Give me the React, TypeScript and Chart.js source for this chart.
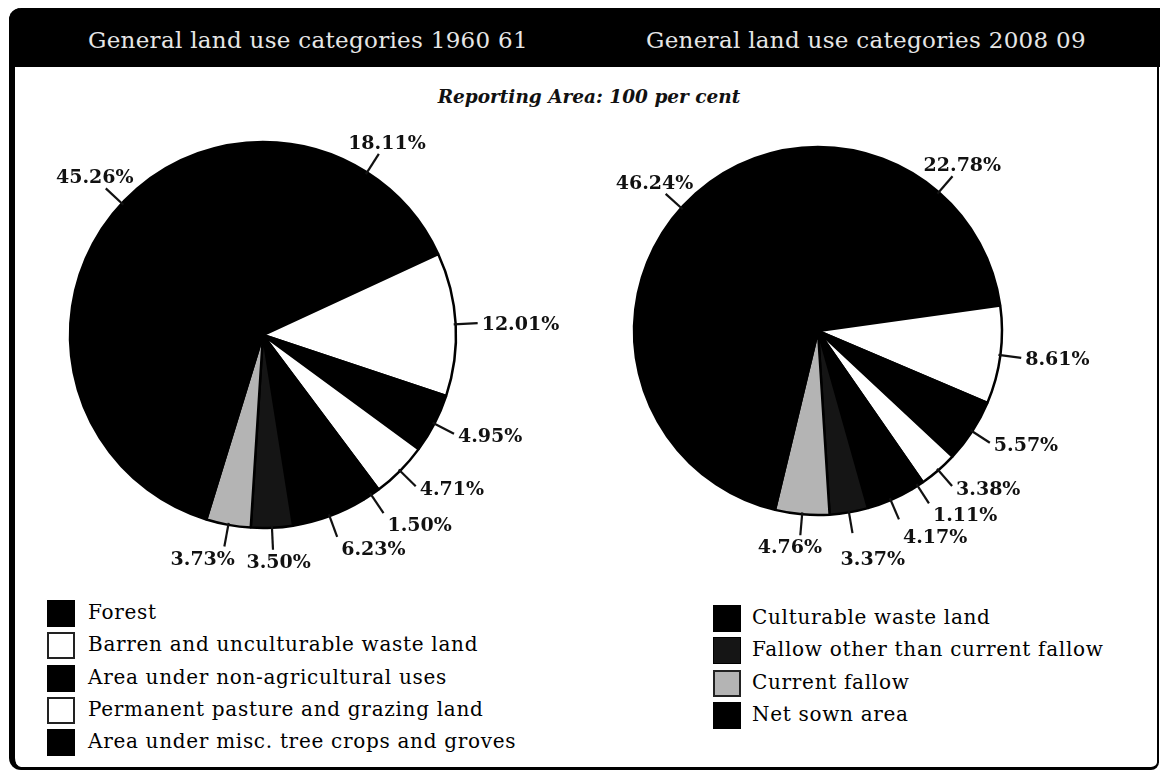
import React, { useEffect, useRef } from "react";
import { Chart, ArcElement, PieController } from "chart.js";

Chart.register(ArcElement, PieController);

// ---------- data ----------
const categories = [
  "Forest",
  "Barren and unculturable waste land",
  "Area under non-agricultural uses",
  "Permanent pasture and grazing land",
  "Area under misc. tree crops and groves",
  "Culturable waste land",
  "Fallow other than current fallow",
  "Current fallow",
  "Net sown area",
];
const values1960 = [18.11, 12.01, 4.95, 4.71, 1.5, 6.23, 3.5, 3.73, 45.26];
const values2008 = [22.78, 8.61, 5.57, 3.38, 1.11, 4.17, 3.37, 4.76, 46.24];
const titles = ["General land use categories 1960 61", "General land use categories 2008 09"];
const subtitle = "Reporting Area: 100 per cent";

// ---------- styles ----------
const sliceColors = ["#000000", "#ffffff", "#000000", "#ffffff", "#000000", "#000000", "#151515", "#b4b4b4", "#000000"];
const LABEL_FONT = "bold 19px 'DejaVu Serif'";

const pieLabels = {
  id: "pieLabels",
  afterDatasetsDraw(chart: any, _args: any, opts: any) {
    const ctx = chart.ctx;
    const meta = chart.getDatasetMeta(0);
    const vals = chart.data.datasets[0].data as number[];
    ctx.save();
    ctx.font = LABEL_FONT;
    ctx.fillStyle = "#111";
    ctx.strokeStyle = "#111";
    ctx.lineWidth = 2.2;
    ctx.lineCap = "butt";
    const h = 14;
    const boxes: { x: number; y: number; w: number; text: string }[] = [];
    meta.data.forEach((arc: any, i: number) => {
      const p = arc.getProps(["x", "y", "startAngle", "endAngle", "outerRadius"], true);
      let a = (p.startAngle + p.endAngle) / 2;
      const ov = opts.angleOverrides ? opts.angleOverrides[i] : undefined;
      if (ov !== undefined && ov !== null) a = (ov * Math.PI) / 180 - Math.PI / 2;
      const ux = Math.cos(a);
      const uy = Math.sin(a);
      const r0 = p.outerRadius - 2;
      const r1 = p.outerRadius + opts.leader;
      const ex = p.x + ux * r1;
      const ey = p.y + uy * r1;
      ctx.beginPath();
      ctx.moveTo(p.x + ux * r0, p.y + uy * r0);
      ctx.lineTo(ex, ey);
      ctx.stroke();
      const text = vals[i].toFixed(2) + "%";
      const w = ctx.measureText(text).width;
      let tx: number;
      let cy: number;
      if (uy < -0.6) {
        tx = ex + ux * 15 - w / 2;
        cy = ey - 5 - h / 2;
      } else {
        const k = Math.max(-1, Math.min(1, ux / 0.3));
        tx = ex - w / 2 + k * (w / 2 + 4);
        if (uy > 0.8) cy = ey + 4 + h / 2;
        else cy = ey + uy * 3;
      }
      // push down if colliding with previous label
      const prev = boxes[boxes.length - 1];
      if (prev && uy > 0 && tx < prev.x + prev.w && tx + w > prev.x) {
        const minY = prev.y + h + 8;
        if (cy < minY && cy > prev.y - h) cy = minY;
      }
      boxes.push({ x: tx, y: cy, w, text });
    });
    ctx.textAlign = "left";
    ctx.textBaseline = "alphabetic";
    boxes.forEach((b) => ctx.fillText(b.text, b.x, b.y + h / 2));
    ctx.restore();
  },
};

function PieCanvas(props: {
  values: number[];
  radius: number;
  left: number;
  top: number;
  width: number;
  height: number;
  netSownAngle: number;
  leader: number;
}) {
  const ref = useRef<HTMLCanvasElement | null>(null);
  useEffect(() => {
    if (!ref.current) return;
    const chart = new Chart(ref.current, {
      type: "pie",
      data: {
        labels: categories,
        datasets: [
          {
            data: props.values,
            backgroundColor: sliceColors,
            borderColor: "#000",
            borderWidth: 2.5,
            radius: props.radius,
          } as any,
        ],
      },
      options: {
        responsive: false,
        animation: false,
        events: [],
        layout: { padding: 0 },
        plugins: {
          legend: { display: false },
          tooltip: { enabled: false },
          pieLabels: { angleOverrides: { 8: props.netSownAngle }, leader: props.leader },
        } as any,
      },
      plugins: [pieLabels],
    });
    return () => chart.destroy();
  }, []);
  return (
    <canvas
      ref={ref}
      width={props.width}
      height={props.height}
      style={{ position: "absolute", left: props.left, top: props.top, width: props.width, height: props.height }}
    />
  );
}

const legendLeft = [0, 1, 2, 3, 4];
const legendRight = [5, 6, 7, 8];

function LegendRow(props: { idx: number; x: number; y: number; textX: number }) {
  const c = sliceColors[props.idx];
  const isLight = c === "#ffffff" || c === "#b4b4b4";
  return (
    <div style={{ position: "absolute", left: props.x, top: props.y, height: 28 }}>
      <div
        style={{
          position: "absolute",
          left: 0,
          top: 0,
          width: 28,
          height: 27,
          boxSizing: "border-box",
          background: c,
          border: isLight ? "2.5px solid #222" : "1px solid #000",
        }}
      />
      <div
        style={{
          position: "absolute",
          left: props.textX - props.x,
          top: 0,
          height: 27,
          lineHeight: "27px",
          whiteSpace: "nowrap",
          font: "20px 'DejaVu Serif'",
          letterSpacing: "0.7px",
          color: "#000",
        }}
      >
        {categories[props.idx]}
      </div>
    </div>
  );
}

export default function App() {
  return (
    <div style={{ position: "absolute", left: 0, top: 0, width: 1160, height: 771, background: "#fff", overflow: "hidden" }}>
      {/* frame */}
      <div
        style={{
          position: "absolute",
          left: 9,
          top: 8,
          width: 1150,
          height: 762,
          boxSizing: "border-box",
          borderLeft: "6px solid #000",
          borderRight: "2px solid #000",
          borderBottom: "3px solid #000",
          borderRadius: "12px 0 8px 12px",
        }}
      />
      {/* header */}
      <div
        style={{
          position: "absolute",
          left: 9,
          top: 8,
          width: 1151,
          height: 59,
          background: "#000",
          borderTopLeftRadius: 12,
        }}
      />
      {titles.map((t, i) => (
        <div
          key={t}
          style={{
            position: "absolute",
            left: i === 0 ? 308 - 260 : 866 - 260,
            width: 520,
            top: 27,
            height: 34,
            lineHeight: "34px",
            textAlign: "center",
            color: "#e6e6e6",
            font: "23px 'DejaVu Serif'",
            letterSpacing: "0.3px",
            whiteSpace: "nowrap",
          }}
        >
          {t}
        </div>
      ))}
      <div
        style={{
          position: "absolute",
          left: 389,
          width: 400,
          top: 86,
          height: 26,
          lineHeight: "26px",
          textAlign: "center",
          font: "italic bold 18.5px 'DejaVu Serif'",
          color: "#111",
          whiteSpace: "nowrap",
        }}
      >
        {subtitle}
      </div>
      <PieCanvas values={values1960} radius={193} left={-37} top={75} width={600} height={520} netSownAngle={313} leader={22} />
      <PieCanvas values={values2008} radius={184} left={518} top={71} width={600} height={520} netSownAngle={312} leader={21} />
      {legendLeft.map((idx, k) => (
        <LegendRow key={idx} idx={idx} x={47} y={600 + k * 32.3} textX={88} />
      ))}
      {legendRight.map((idx, k) => (
        <LegendRow key={idx} idx={idx} x={713} y={605 + k * 32.3} textX={752} />
      ))}
    </div>
  );
}
